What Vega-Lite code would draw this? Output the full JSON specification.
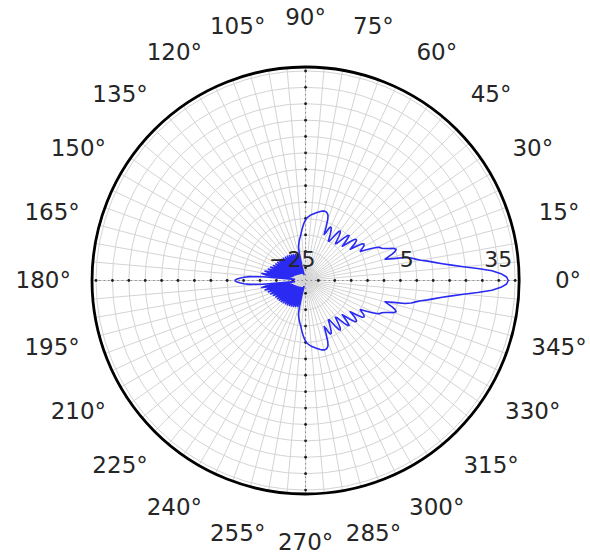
{
  "$schema": "https://vega.github.io/schema/vega-lite/v6.json",
  "width": 590,
  "height": 555,
  "padding": 0,
  "autosize": {"type": "none"},
  "background": "white",
  "config": {"view": {"stroke": null}},
  "datasets": {
    "pattern": [
      {"angle": -180, "gain": -7.3}, {"angle": -179, "gain": -7.8}, {"angle": -178, "gain": -8.8}, {"angle": -177, "gain": -10.1}, {"angle": -176, "gain": -11.9},
      {"angle": -175, "gain": -15.8}, {"angle": -174, "gain": -25.5}, {"angle": -173, "gain": -23.5}, {"angle": -172, "gain": -16.5}, {"angle": -171, "gain": -15.4},
      {"angle": -170, "gain": -18.0}, {"angle": -169, "gain": -24.0}, {"angle": -168, "gain": -17.2}, {"angle": -167, "gain": -16.2}, {"angle": -166, "gain": -19.0},
      {"angle": -165, "gain": -24.5}, {"angle": -164, "gain": -18.0}, {"angle": -163, "gain": -17.0}, {"angle": -162, "gain": -19.8}, {"angle": -161, "gain": -24.8},
      {"angle": -160, "gain": -18.5}, {"angle": -159, "gain": -17.5}, {"angle": -158, "gain": -20.2}, {"angle": -157, "gain": -25.0}, {"angle": -156, "gain": -19.0},
      {"angle": -155, "gain": -18.1}, {"angle": -154, "gain": -20.6}, {"angle": -153, "gain": -25.3}, {"angle": -152, "gain": -19.4}, {"angle": -151, "gain": -18.5},
      {"angle": -150, "gain": -21.0}, {"angle": -149, "gain": -25.5}, {"angle": -148, "gain": -19.6}, {"angle": -147, "gain": -18.7}, {"angle": -146, "gain": -21.2},
      {"angle": -145, "gain": -25.6}, {"angle": -144, "gain": -19.8}, {"angle": -143, "gain": -18.9}, {"angle": -142, "gain": -21.4}, {"angle": -141, "gain": -25.8},
      {"angle": -140, "gain": -20.0}, {"angle": -139, "gain": -19.1}, {"angle": -138, "gain": -21.6}, {"angle": -137, "gain": -26.0}, {"angle": -136, "gain": -20.2},
      {"angle": -135, "gain": -19.3}, {"angle": -134, "gain": -21.8}, {"angle": -133, "gain": -26.0}, {"angle": -132, "gain": -20.4}, {"angle": -131, "gain": -19.5},
      {"angle": -130, "gain": -22.0}, {"angle": -129, "gain": -26.2}, {"angle": -128, "gain": -20.5}, {"angle": -127, "gain": -19.6}, {"angle": -126, "gain": -22.1},
      {"angle": -125, "gain": -26.2}, {"angle": -124, "gain": -20.7}, {"angle": -123, "gain": -19.8}, {"angle": -122, "gain": -22.3}, {"angle": -121, "gain": -26.3},
      {"angle": -120, "gain": -20.9}, {"angle": -119, "gain": -20.0}, {"angle": -118, "gain": -22.5}, {"angle": -117, "gain": -26.3}, {"angle": -116, "gain": -21.1},
      {"angle": -115, "gain": -20.2}, {"angle": -114, "gain": -22.6}, {"angle": -113, "gain": -26.5}, {"angle": -112, "gain": -21.3}, {"angle": -111, "gain": -20.4},
      {"angle": -110, "gain": -22.8}, {"angle": -109, "gain": -26.5}, {"angle": -108, "gain": -21.5}, {"angle": -107, "gain": -20.6}, {"angle": -106, "gain": -23.0},
      {"angle": -105, "gain": -27.0}, {"angle": -104, "gain": -24.0}, {"angle": -103, "gain": -20.5}, {"angle": -102, "gain": -18.4}, {"angle": -101, "gain": -17.8},
      {"angle": -100, "gain": -17.2}, {"angle": -99, "gain": -16.6}, {"angle": -98, "gain": -16.0}, {"angle": -97, "gain": -15.5}, {"angle": -96, "gain": -14.9},
      {"angle": -95, "gain": -14.1}, {"angle": -94, "gain": -13.3}, {"angle": -93, "gain": -12.5}, {"angle": -92, "gain": -11.7}, {"angle": -91, "gain": -11.0},
      {"angle": -90, "gain": -10.4}, {"angle": -89, "gain": -9.9}, {"angle": -88, "gain": -9.6}, {"angle": -87, "gain": -9.3}, {"angle": -86, "gain": -9.0},
      {"angle": -85, "gain": -8.8}, {"angle": -84, "gain": -8.6}, {"angle": -83, "gain": -8.4}, {"angle": -82, "gain": -8.2}, {"angle": -81, "gain": -8.0},
      {"angle": -80, "gain": -7.8}, {"angle": -79, "gain": -7.6}, {"angle": -78, "gain": -7.4}, {"angle": -77, "gain": -7.2}, {"angle": -76, "gain": -7.1},
      {"angle": -75, "gain": -7.0}, {"angle": -74, "gain": -7.0}, {"angle": -73, "gain": -7.1}, {"angle": -72, "gain": -7.4}, {"angle": -71, "gain": -7.9},
      {"angle": -70, "gain": -9.2}, {"angle": -69, "gain": -11.4}, {"angle": -68, "gain": -13.8}, {"angle": -67, "gain": -13.0}, {"angle": -66, "gain": -11.5},
      {"angle": -65, "gain": -10.9}, {"angle": -64, "gain": -11.0}, {"angle": -63, "gain": -11.8}, {"angle": -62, "gain": -12.9}, {"angle": -61, "gain": -14.0},
      {"angle": -60, "gain": -15.0}, {"angle": -59, "gain": -15.0}, {"angle": -58, "gain": -13.9}, {"angle": -57, "gain": -12.3}, {"angle": -56, "gain": -10.9},
      {"angle": -55, "gain": -10.5}, {"angle": -54, "gain": -10.9}, {"angle": -53, "gain": -12.0}, {"angle": -52, "gain": -13.3}, {"angle": -51, "gain": -14.5},
      {"angle": -50, "gain": -14.2}, {"angle": -49, "gain": -13.0}, {"angle": -48, "gain": -11.4}, {"angle": -47, "gain": -10.2}, {"angle": -46, "gain": -9.8},
      {"angle": -45, "gain": -10.8}, {"angle": -44, "gain": -12.2}, {"angle": -43, "gain": -13.6}, {"angle": -42, "gain": -12.4}, {"angle": -41, "gain": -10.8},
      {"angle": -40, "gain": -9.4}, {"angle": -39, "gain": -9.0}, {"angle": -38, "gain": -9.2}, {"angle": -37, "gain": -10.0}, {"angle": -36, "gain": -11.2},
      {"angle": -35, "gain": -12.3}, {"angle": -34, "gain": -10.2}, {"angle": -33, "gain": -8.3}, {"angle": -32, "gain": -7.9}, {"angle": -31, "gain": -8.1},
      {"angle": -30, "gain": -8.7}, {"angle": -29, "gain": -9.5}, {"angle": -28, "gain": -10.0}, {"angle": -27, "gain": -8.4}, {"angle": -26, "gain": -6.6},
      {"angle": -25, "gain": -5.1}, {"angle": -24, "gain": -4.1}, {"angle": -23, "gain": -3.7}, {"angle": -22, "gain": -2.9}, {"angle": -21, "gain": -1.7},
      {"angle": -20, "gain": -0.3}, {"angle": -19, "gain": 0.3}, {"angle": -18, "gain": -0.2}, {"angle": -17, "gain": -1.3}, {"angle": -16, "gain": -2.7},
      {"angle": -15, "gain": -3.8}, {"angle": -14, "gain": -1.3}, {"angle": -13, "gain": 2.2}, {"angle": -12, "gain": 4.0}, {"angle": -11, "gain": 5.3},
      {"angle": -10, "gain": 6.8}, {"angle": -9, "gain": 8.8}, {"angle": -8, "gain": 10.8}, {"angle": -7, "gain": 13.1}, {"angle": -6, "gain": 15.9},
      {"angle": -5, "gain": 19.4}, {"angle": -4, "gain": 23.7}, {"angle": -3, "gain": 28.0}, {"angle": -2, "gain": 30.7}, {"angle": -1, "gain": 32.4},
      {"angle": 0, "gain": 32.9},
      {"angle": 1, "gain": 32.4}, {"angle": 2, "gain": 30.7}, {"angle": 3, "gain": 28.0}, {"angle": 4, "gain": 23.7}, {"angle": 5, "gain": 19.4},
      {"angle": 6, "gain": 15.9}, {"angle": 7, "gain": 13.1}, {"angle": 8, "gain": 10.8}, {"angle": 9, "gain": 8.8}, {"angle": 10, "gain": 6.8},
      {"angle": 11, "gain": 5.3}, {"angle": 12, "gain": 4.0}, {"angle": 13, "gain": 2.2}, {"angle": 14, "gain": -1.3}, {"angle": 15, "gain": -3.8},
      {"angle": 16, "gain": -2.7}, {"angle": 17, "gain": -1.3}, {"angle": 18, "gain": -0.2}, {"angle": 19, "gain": 0.3}, {"angle": 20, "gain": -0.3},
      {"angle": 21, "gain": -1.7}, {"angle": 22, "gain": -2.9}, {"angle": 23, "gain": -3.7}, {"angle": 24, "gain": -4.1}, {"angle": 25, "gain": -5.1},
      {"angle": 26, "gain": -6.6}, {"angle": 27, "gain": -8.4}, {"angle": 28, "gain": -10.0}, {"angle": 29, "gain": -9.5}, {"angle": 30, "gain": -8.7},
      {"angle": 31, "gain": -8.1}, {"angle": 32, "gain": -7.9}, {"angle": 33, "gain": -8.3}, {"angle": 34, "gain": -10.2}, {"angle": 35, "gain": -12.3},
      {"angle": 36, "gain": -11.2}, {"angle": 37, "gain": -10.0}, {"angle": 38, "gain": -9.2}, {"angle": 39, "gain": -9.0}, {"angle": 40, "gain": -9.4},
      {"angle": 41, "gain": -10.8}, {"angle": 42, "gain": -12.4}, {"angle": 43, "gain": -13.6}, {"angle": 44, "gain": -12.2}, {"angle": 45, "gain": -10.8},
      {"angle": 46, "gain": -9.8}, {"angle": 47, "gain": -10.2}, {"angle": 48, "gain": -11.4}, {"angle": 49, "gain": -13.0}, {"angle": 50, "gain": -14.2},
      {"angle": 51, "gain": -14.5}, {"angle": 52, "gain": -13.3}, {"angle": 53, "gain": -12.0}, {"angle": 54, "gain": -10.9}, {"angle": 55, "gain": -10.5},
      {"angle": 56, "gain": -10.9}, {"angle": 57, "gain": -12.3}, {"angle": 58, "gain": -13.9}, {"angle": 59, "gain": -15.0}, {"angle": 60, "gain": -15.0},
      {"angle": 61, "gain": -14.0}, {"angle": 62, "gain": -12.9}, {"angle": 63, "gain": -11.8}, {"angle": 64, "gain": -11.0}, {"angle": 65, "gain": -10.9},
      {"angle": 66, "gain": -11.5}, {"angle": 67, "gain": -13.0}, {"angle": 68, "gain": -13.8}, {"angle": 69, "gain": -11.4}, {"angle": 70, "gain": -9.2},
      {"angle": 71, "gain": -7.9}, {"angle": 72, "gain": -7.4}, {"angle": 73, "gain": -7.1}, {"angle": 74, "gain": -7.0}, {"angle": 75, "gain": -7.0},
      {"angle": 76, "gain": -7.1}, {"angle": 77, "gain": -7.2}, {"angle": 78, "gain": -7.4}, {"angle": 79, "gain": -7.6}, {"angle": 80, "gain": -7.8},
      {"angle": 81, "gain": -8.0}, {"angle": 82, "gain": -8.2}, {"angle": 83, "gain": -8.4}, {"angle": 84, "gain": -8.6}, {"angle": 85, "gain": -8.8},
      {"angle": 86, "gain": -9.0}, {"angle": 87, "gain": -9.3}, {"angle": 88, "gain": -9.6}, {"angle": 89, "gain": -9.9}, {"angle": 90, "gain": -10.4},
      {"angle": 91, "gain": -11.0}, {"angle": 92, "gain": -11.7}, {"angle": 93, "gain": -12.5}, {"angle": 94, "gain": -13.3}, {"angle": 95, "gain": -14.1},
      {"angle": 96, "gain": -14.9}, {"angle": 97, "gain": -15.5}, {"angle": 98, "gain": -16.0}, {"angle": 99, "gain": -16.6}, {"angle": 100, "gain": -17.2},
      {"angle": 101, "gain": -17.8}, {"angle": 102, "gain": -18.4}, {"angle": 103, "gain": -20.5}, {"angle": 104, "gain": -24.0}, {"angle": 105, "gain": -27.0},
      {"angle": 106, "gain": -23.0}, {"angle": 107, "gain": -20.6}, {"angle": 108, "gain": -21.5}, {"angle": 109, "gain": -26.5}, {"angle": 110, "gain": -22.8},
      {"angle": 111, "gain": -20.4}, {"angle": 112, "gain": -21.3}, {"angle": 113, "gain": -26.5}, {"angle": 114, "gain": -22.6}, {"angle": 115, "gain": -20.2},
      {"angle": 116, "gain": -21.1}, {"angle": 117, "gain": -26.3}, {"angle": 118, "gain": -22.5}, {"angle": 119, "gain": -20.0}, {"angle": 120, "gain": -20.9},
      {"angle": 121, "gain": -26.3}, {"angle": 122, "gain": -22.3}, {"angle": 123, "gain": -19.8}, {"angle": 124, "gain": -20.7}, {"angle": 125, "gain": -26.2},
      {"angle": 126, "gain": -22.1}, {"angle": 127, "gain": -19.6}, {"angle": 128, "gain": -20.5}, {"angle": 129, "gain": -26.2}, {"angle": 130, "gain": -22.0},
      {"angle": 131, "gain": -19.5}, {"angle": 132, "gain": -20.4}, {"angle": 133, "gain": -26.0}, {"angle": 134, "gain": -21.8}, {"angle": 135, "gain": -19.3},
      {"angle": 136, "gain": -20.2}, {"angle": 137, "gain": -26.0}, {"angle": 138, "gain": -21.6}, {"angle": 139, "gain": -19.1}, {"angle": 140, "gain": -20.0},
      {"angle": 141, "gain": -25.8}, {"angle": 142, "gain": -21.4}, {"angle": 143, "gain": -18.9}, {"angle": 144, "gain": -19.8}, {"angle": 145, "gain": -25.6},
      {"angle": 146, "gain": -21.2}, {"angle": 147, "gain": -18.7}, {"angle": 148, "gain": -19.6}, {"angle": 149, "gain": -25.5}, {"angle": 150, "gain": -21.0},
      {"angle": 151, "gain": -18.5}, {"angle": 152, "gain": -19.4}, {"angle": 153, "gain": -25.3}, {"angle": 154, "gain": -20.6}, {"angle": 155, "gain": -18.1},
      {"angle": 156, "gain": -19.0}, {"angle": 157, "gain": -25.0}, {"angle": 158, "gain": -20.2}, {"angle": 159, "gain": -17.5}, {"angle": 160, "gain": -18.5},
      {"angle": 161, "gain": -24.8}, {"angle": 162, "gain": -19.8}, {"angle": 163, "gain": -17.0}, {"angle": 164, "gain": -18.0}, {"angle": 165, "gain": -24.5},
      {"angle": 166, "gain": -19.0}, {"angle": 167, "gain": -16.2}, {"angle": 168, "gain": -17.2}, {"angle": 169, "gain": -24.0}, {"angle": 170, "gain": -18.0},
      {"angle": 171, "gain": -15.4}, {"angle": 172, "gain": -16.5}, {"angle": 173, "gain": -23.5}, {"angle": 174, "gain": -25.5}, {"angle": 175, "gain": -15.8},
      {"angle": 176, "gain": -11.9}, {"angle": 177, "gain": -10.1}, {"angle": 178, "gain": -8.8}, {"angle": 179, "gain": -7.8}, {"angle": 180, "gain": -7.3}
    ],
    "rings": [
      {"level": -25}, {"level": -20}, {"level": -15}, {"level": -10}, {"level": -5}, {"level": 0}, {"level": 5},
      {"level": 10}, {"level": 15}, {"level": 20}, {"level": 25}, {"level": 30}, {"level": 35}
    ],
    "spokes": [
      {"spoke": 0}, {"spoke": 5}, {"spoke": 10}, {"spoke": 15}, {"spoke": 20}, {"spoke": 25}, {"spoke": 30}, {"spoke": 35},
      {"spoke": 40}, {"spoke": 45}, {"spoke": 50}, {"spoke": 55}, {"spoke": 60}, {"spoke": 65}, {"spoke": 70}, {"spoke": 75},
      {"spoke": 80}, {"spoke": 85}, {"spoke": 90}, {"spoke": 95}, {"spoke": 100}, {"spoke": 105}, {"spoke": 110}, {"spoke": 115},
      {"spoke": 120}, {"spoke": 125}, {"spoke": 130}, {"spoke": 135}, {"spoke": 140}, {"spoke": 145}, {"spoke": 150}, {"spoke": 155},
      {"spoke": 160}, {"spoke": 165}, {"spoke": 170}, {"spoke": 175}, {"spoke": 180}, {"spoke": 185}, {"spoke": 190}, {"spoke": 195},
      {"spoke": 200}, {"spoke": 205}, {"spoke": 210}, {"spoke": 215}, {"spoke": 220}, {"spoke": 225}, {"spoke": 230}, {"spoke": 235},
      {"spoke": 240}, {"spoke": 245}, {"spoke": 250}, {"spoke": 255}, {"spoke": 260}, {"spoke": 265}, {"spoke": 270}, {"spoke": 275},
      {"spoke": 280}, {"spoke": 285}, {"spoke": 290}, {"spoke": 295}, {"spoke": 300}, {"spoke": 305}, {"spoke": 310}, {"spoke": 315},
      {"spoke": 320}, {"spoke": 325}, {"spoke": 330}, {"spoke": 335}, {"spoke": 340}, {"spoke": 345}, {"spoke": 350}, {"spoke": 355}
    ],
    "angleLabels": [
      {"deg": 0, "label": "0°"}, {"deg": 15, "label": "15°"}, {"deg": 30, "label": "30°"}, {"deg": 45, "label": "45°"},
      {"deg": 60, "label": "60°"}, {"deg": 75, "label": "75°"}, {"deg": 90, "label": "90°"}, {"deg": 105, "label": "105°"},
      {"deg": 120, "label": "120°"}, {"deg": 135, "label": "135°"}, {"deg": 150, "label": "150°"}, {"deg": 165, "label": "165°"},
      {"deg": 180, "label": "180°"}, {"deg": 195, "label": "195°"}, {"deg": 210, "label": "210°"}, {"deg": 225, "label": "225°"},
      {"deg": 240, "label": "240°"}, {"deg": 255, "label": "255°"}, {"deg": 270, "label": "270°"}, {"deg": 285, "label": "285°"},
      {"deg": 300, "label": "300°"}, {"deg": 315, "label": "315°"}, {"deg": 330, "label": "330°"}, {"deg": 345, "label": "345°"}
    ],
    "radialLabels": [
      {"level": -25, "label": "−25"}, {"level": 5, "label": "5"}, {"level": 35, "label": "35"}
    ]
  },
  "layer": [
    {
      "data": {"name": "spokes"},
      "transform": [
        {"calculate": "0", "as": "origin"},
        {"calculate": "65.1 * cos(datum.spoke * PI / 180)", "as": "sx"},
        {"calculate": "65.1 * sin(datum.spoke * PI / 180)", "as": "sy"}
      ],
      "mark": {"type": "rule", "stroke": "#d4d4d4", "strokeWidth": 1},
      "encoding": {
        "x": {"field": "origin", "type": "quantitative", "scale": {"domain": [-93.18, 86.72], "nice": false, "zero": false}, "axis": null},
        "y": {"field": "origin", "type": "quantitative", "scale": {"domain": [-83.70, 85.53], "nice": false, "zero": false}, "axis": null},
        "x2": {"field": "sx"},
        "y2": {"field": "sy"}
      }
    },
    {
      "data": {"name": "rings"},
      "transform": [{"calculate": "0", "as": "origin"}],
      "mark": {"type": "arc", "theta": 0, "theta2": 6.2832, "fillOpacity": 0, "stroke": "#d4d4d4", "strokeWidth": 1},
      "encoding": {
        "x": {"field": "origin", "type": "quantitative"},
        "y": {"field": "origin", "type": "quantitative"},
        "radius": {"field": "level", "type": "quantitative", "stack": null, "scale": {"type": "linear", "domain": [-28.9, 36.2], "range": [0, 213.5], "zero": false, "nice": false}},
        "radius2": {"value": 0}
      }
    },
    {
      "data": {"values": [{"axisAngle": 0}, {"axisAngle": 90}]},
      "transform": [
        {"calculate": "65.1 * cos(datum.axisAngle * PI / 180)", "as": "ax"},
        {"calculate": "65.1 * sin(datum.axisAngle * PI / 180)", "as": "ay"},
        {"calculate": "-datum.ax", "as": "bx"},
        {"calculate": "-datum.ay", "as": "by"}
      ],
      "mark": {"type": "rule", "stroke": "#8a8a8a", "strokeWidth": 1, "strokeDash": [1.5, 3]},
      "encoding": {
        "x": {"field": "ax", "type": "quantitative"},
        "y": {"field": "ay", "type": "quantitative"},
        "x2": {"field": "bx"},
        "y2": {"field": "by"}
      }
    },
    {
      "data": {"name": "rings"},
      "transform": [
        {"calculate": "[0, 90, 180, 270]", "as": "dir"},
        {"flatten": ["dir"]},
        {"calculate": "(datum.level + 28.9) * cos(datum.dir * PI / 180)", "as": "tx"},
        {"calculate": "(datum.level + 28.9) * sin(datum.dir * PI / 180)", "as": "ty"}
      ],
      "mark": {"type": "point", "shape": "circle", "filled": true, "size": 8, "color": "#1e1e1e", "opacity": 1},
      "encoding": {
        "x": {"field": "tx", "type": "quantitative"},
        "y": {"field": "ty", "type": "quantitative"}
      }
    },
    {
      "data": {"name": "pattern"},
      "transform": [
        {"calculate": "(datum.gain + 28.9) * cos(datum.angle * PI / 180)", "as": "px"},
        {"calculate": "(datum.gain + 28.9) * sin(datum.angle * PI / 180)", "as": "py"}
      ],
      "mark": {"type": "line", "stroke": "#2a2af2", "strokeWidth": 1.6, "strokeJoin": "round"},
      "encoding": {
        "x": {"field": "px", "type": "quantitative"},
        "y": {"field": "py", "type": "quantitative"},
        "order": {"field": "angle", "type": "quantitative"}
      }
    },
    {
      "data": {"values": [{"level": 36.2}]},
      "transform": [{"calculate": "0", "as": "origin"}],
      "mark": {"type": "arc", "theta": 0, "theta2": 6.2832, "fillOpacity": 0, "stroke": "#000000", "strokeWidth": 2.8},
      "encoding": {
        "x": {"field": "origin", "type": "quantitative"},
        "y": {"field": "origin", "type": "quantitative"},
        "radius": {"field": "level", "type": "quantitative", "stack": null, "scale": {"type": "linear", "domain": [-28.9, 36.2], "range": [0, 213.5], "zero": false, "nice": false}},
        "radius2": {"value": 0}
      }
    },
    {
      "data": {"name": "angleLabels"},
      "transform": [
        {"calculate": "80.0 * cos(datum.deg * PI / 180)", "as": "lx"},
        {"calculate": "80.0 * sin(datum.deg * PI / 180)", "as": "ly"}
      ],
      "mark": {"type": "text", "font": "DejaVu Sans", "fontSize": 23, "fill": "#262626", "align": "center", "baseline": "middle"},
      "encoding": {
        "x": {"field": "lx", "type": "quantitative"},
        "y": {"field": "ly", "type": "quantitative"},
        "text": {"field": "label", "type": "nominal"}
      }
    },
    {
      "data": {"name": "radialLabels"},
      "transform": [
        {"calculate": "datum.level + 28.9", "as": "lr"},
        {"calculate": "6.1", "as": "lift"}
      ],
      "mark": {"type": "text", "font": "DejaVu Sans", "fontSize": 22, "fill": "#262626", "align": "right", "baseline": "middle", "dx": -3},
      "encoding": {
        "x": {"field": "lr", "type": "quantitative"},
        "y": {"field": "lift", "type": "quantitative"},
        "text": {"field": "label", "type": "nominal"}
      }
    }
  ]
}
